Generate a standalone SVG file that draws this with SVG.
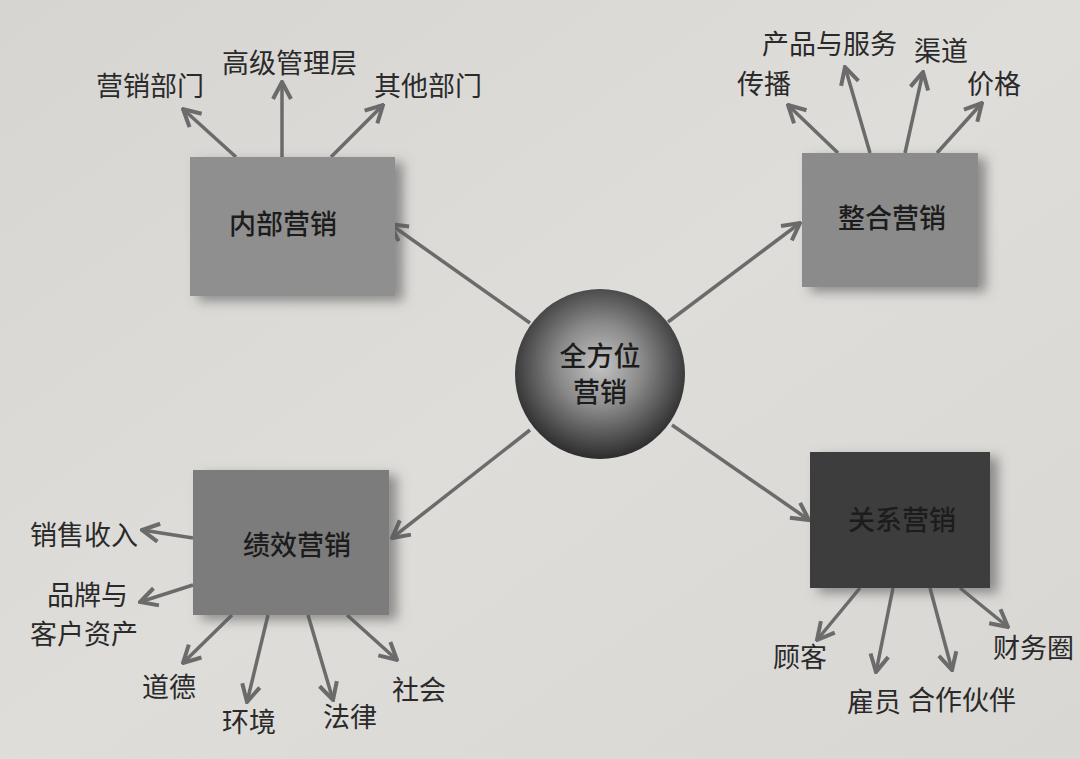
<svg xmlns="http://www.w3.org/2000/svg" width="1080" height="759" viewBox="0 0 1080 759">
<defs>
<style>
.lbl{font-family:"Noto Sans CJK SC","Noto Sans",sans-serif;font-size:27px;fill:#2a2a2a;}
.bx{font-family:"Noto Sans CJK SC","Noto Sans",sans-serif;font-size:27px;font-weight:500;fill:#1c1c1c;text-anchor:middle;}
.arr{stroke:#6b6b6b;stroke-width:3.5;fill:none;marker-end:url(#ah);}
</style>
<marker id="ah" markerUnits="userSpaceOnUse" viewBox="0 0 22 22" refX="20" refY="11" markerWidth="22" markerHeight="22" orient="auto">
<path d="M3,2 L20,11 L3,20" fill="none" stroke="#6b6b6b" stroke-width="4" stroke-linejoin="miter"/>
</marker>
<radialGradient id="ball" cx="0.5" cy="0.45" r="0.55">
<stop offset="0" stop-color="#c4c4c4"/>
<stop offset="0.45" stop-color="#8a8a8a"/>
<stop offset="1" stop-color="#2c2c2c"/>
</radialGradient>
<linearGradient id="bg" x1="0" y1="0" x2="1" y2="1">
<stop offset="0" stop-color="#d7d5d2"/>
<stop offset="0.5" stop-color="#dfddda"/>
<stop offset="1" stop-color="#d9d7d4"/>
</linearGradient>
<filter id="sh" x="-20%" y="-20%" width="150%" height="150%">
<feGaussianBlur in="SourceAlpha" stdDeviation="6"/>
<feOffset dx="8" dy="5" result="b"/>
<feFlood flood-color="#555" flood-opacity="0.6"/>
<feComposite in2="b" operator="in"/>
<feMerge><feMergeNode/><feMergeNode in="SourceGraphic"/></feMerge>
</filter>
</defs>
<rect width="1080" height="759" fill="url(#bg)"/>

<g id="connectors">
<line class="arr" x1="530" y1="323" x2="390" y2="224"/>
<line class="arr" x1="668" y1="322" x2="800" y2="223"/>
<line class="arr" x1="530" y1="430" x2="392" y2="538"/>
<line class="arr" x1="672" y1="425" x2="809" y2="520"/>

<line class="arr" x1="236" y1="157" x2="183" y2="109"/>
<line class="arr" x1="282" y1="157" x2="282" y2="82"/>
<line class="arr" x1="331" y1="157" x2="383" y2="105"/>

<line class="arr" x1="838" y1="153" x2="788" y2="105"/>
<line class="arr" x1="870" y1="153" x2="845" y2="67"/>
<line class="arr" x1="905" y1="153" x2="923" y2="72"/>
<line class="arr" x1="937" y1="153" x2="982" y2="103"/>

<line class="arr" x1="193" y1="538" x2="142" y2="530"/>
<line class="arr" x1="193" y1="585" x2="140" y2="602"/>
<line class="arr" x1="232" y1="615" x2="183" y2="663"/>
<line class="arr" x1="268" y1="615" x2="247" y2="702"/>
<line class="arr" x1="308" y1="615" x2="333" y2="700"/>
<line class="arr" x1="347" y1="615" x2="397" y2="660"/>

<line class="arr" x1="860" y1="588" x2="817" y2="640"/>
<line class="arr" x1="893" y1="588" x2="876" y2="672"/>
<line class="arr" x1="930" y1="588" x2="952" y2="670"/>
<line class="arr" x1="960" y1="588" x2="1008" y2="627"/>
</g>

<g id="center">
<circle cx="600" cy="374" r="85" fill="url(#ball)"/>
<text class="bx" x="600" y="366">全方位</text>
<text class="bx" x="600" y="402">营销</text>
</g>

<g id="internal">
<rect x="190" y="157" width="205" height="139" fill="#8f8f8f" filter="url(#sh)"/>
<text class="bx" x="283" y="234">内部营销</text>
</g>
<g id="integrated">
<rect x="802" y="153" width="176" height="134" fill="#8b8b8b" filter="url(#sh)"/>
<text class="bx" x="892" y="228">整合营销</text>
</g>
<g id="performance">
<rect x="193" y="470" width="196" height="145" fill="#7c7c7c" filter="url(#sh)"/>
<text class="bx" x="297" y="555">绩效营销</text>
</g>
<g id="relationship">
<rect x="810" y="452" width="180" height="136" fill="#3e3e3e" filter="url(#sh)"/>
<text class="bx" x="902" y="530">关系营销</text>
</g>

<g id="labels-internal">
<text class="lbl" x="96" y="96">营销部门</text>
<text class="lbl" x="222" y="73">高级管理层</text>
<text class="lbl" x="374" y="96">其他部门</text>
</g>
<g id="labels-integrated">
<text class="lbl" x="737" y="94">传播</text>
<text class="lbl" x="762" y="54">产品与服务</text>
<text class="lbl" x="914" y="61">渠道</text>
<text class="lbl" x="967" y="94">价格</text>
</g>
<g id="labels-performance">
<text class="lbl" x="30" y="545">销售收入</text>
<text class="lbl" x="47" y="605">品牌与</text>
<text class="lbl" x="30" y="644">客户资产</text>
<text class="lbl" x="142" y="697">道德</text>
<text class="lbl" x="222" y="732">环境</text>
<text class="lbl" x="323" y="727">法律</text>
<text class="lbl" x="392" y="700">社会</text>
</g>
<g id="labels-relationship">
<text class="lbl" x="773" y="667">顾客</text>
<text class="lbl" x="847" y="712">雇员</text>
<text class="lbl" x="908" y="710">合作伙伴</text>
<text class="lbl" x="993" y="658">财务圈</text>
</g>
</svg>
